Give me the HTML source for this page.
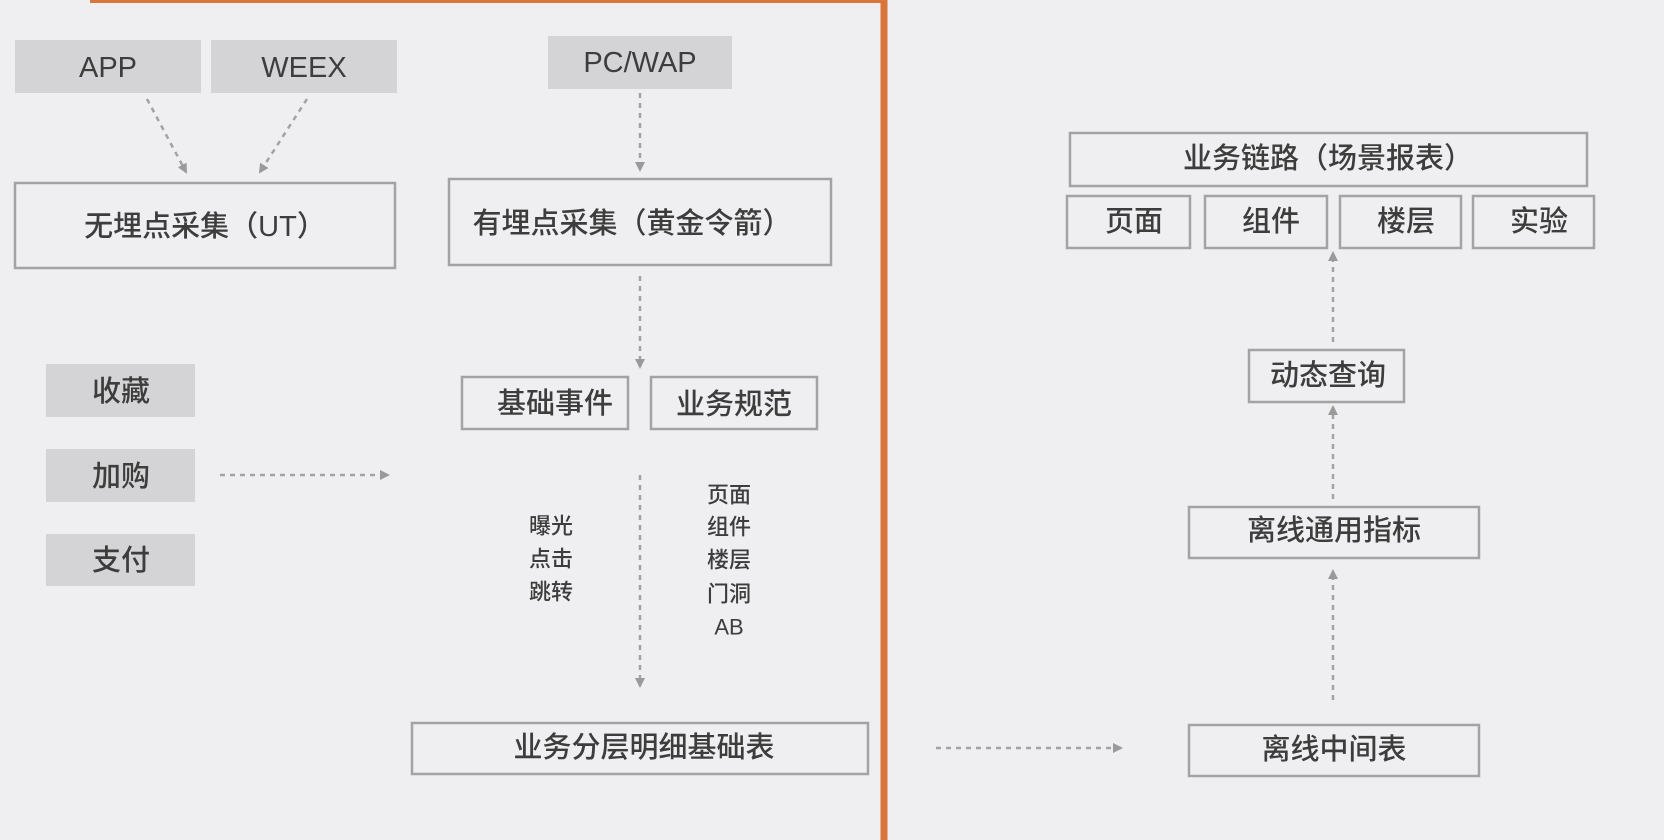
<!DOCTYPE html>
<html><head><meta charset="utf-8"><style>
html,body{margin:0;padding:0;background:#efeef0;}
svg{display:block}
text{font-family:"Liberation Sans","Noto Sans CJK SC",sans-serif;fill:#3d3d3d;font-weight:500;}
</style></head><body>
<svg width="1664" height="840" viewBox="0 0 1664 840" xmlns="http://www.w3.org/2000/svg">
<defs>
<marker id="a" markerWidth="10" markerHeight="10" refX="8" refY="5" orient="auto" markerUnits="userSpaceOnUse">
<path d="M0,0 L10,5 L0,10 z" fill="#9a9a9a"/></marker>
</defs>
<rect width="1664" height="840" fill="#efeef0"/>
<line x1="90" y1="1" x2="884" y2="1" stroke="#d9753a" stroke-width="4"/>
<line x1="884" y1="0" x2="884" y2="840" stroke="#d9753a" stroke-width="7"/>
<g fill="#d4d3d5">
<rect x="15" y="40" width="186" height="53"/>
<rect x="211" y="40" width="186" height="53"/>
<rect x="548" y="36" width="184" height="53"/>
<rect x="46" y="364" width="149" height="53"/>
<rect x="46" y="449" width="149" height="53"/>
<rect x="46" y="534" width="149" height="52"/>
</g>
<g fill="none" stroke="#a3a3a3" stroke-width="2.5">
<rect x="15" y="183" width="380" height="85"/>
<rect x="449" y="179" width="382" height="86"/>
<rect x="462" y="377" width="166" height="52"/>
<rect x="651" y="377" width="166" height="52"/>
<rect x="412" y="723" width="456" height="51"/>
<rect x="1189" y="725" width="290" height="51"/>
<rect x="1189" y="507" width="290" height="51"/>
<rect x="1249" y="350" width="155" height="52"/>
<rect x="1070" y="133" width="517" height="53"/>
<rect x="1067" y="196" width="123" height="52"/>
<rect x="1205" y="196" width="122" height="52"/>
<rect x="1340" y="196" width="121" height="52"/>
<rect x="1473" y="196" width="121" height="52"/>
</g>
<g stroke="#a3a3a3" stroke-width="2.5" stroke-dasharray="5,5" marker-end="url(#a)" fill="none">
<line x1="147" y1="99" x2="186" y2="172"/>
<line x1="307" y1="99" x2="260" y2="172"/>
<line x1="640" y1="93" x2="640" y2="170"/>
<line x1="640" y1="276" x2="640" y2="367"/>
<line x1="220" y1="475" x2="388" y2="475"/>
<line x1="640" y1="475" x2="640" y2="686"/>
<line x1="936" y1="748" x2="1121" y2="748"/>
<line x1="1333" y1="700" x2="1333" y2="571"/>
<line x1="1333" y1="499" x2="1333" y2="407"/>
<line x1="1333" y1="342" x2="1333" y2="253"/>
</g>
<g font-size="29" text-anchor="middle" dominant-baseline="central">
<text x="108" y="68">APP</text>
<text x="304" y="68">WEEX</text>
<text x="640" y="63">PC/WAP</text>
<text x="205" y="227">无埋点采集（UT）</text>
<text x="632" y="224">有埋点采集（黄金令箭）</text>
<text x="555" y="404">基础事件</text>
<text x="734" y="405">业务规范</text>
<text x="121" y="392">收藏</text>
<text x="121" y="477">加购</text>
<text x="121" y="561">支付</text>
<text x="644" y="748">业务分层明细基础表</text>
<text x="1334" y="750">离线中间表</text>
<text x="1334" y="531">离线通用指标</text>
<text x="1328" y="376">动态查询</text>
<text x="1328" y="159">业务链路（场景报表）</text>
<text x="1134" y="222">页面</text>
<text x="1271" y="222">组件</text>
<text x="1406" y="222">楼层</text>
<text x="1539" y="222">实验</text>
</g>
<g font-size="22" text-anchor="middle" dominant-baseline="central">
<text x="551" y="526">曝光</text>
<text x="551" y="559">点击</text>
<text x="551" y="592">跳转</text>
<text x="729" y="495">页面</text>
<text x="729" y="527">组件</text>
<text x="729" y="560">楼层</text>
<text x="729" y="594">门洞</text>
<text x="729" y="627">AB</text>
</g>
</svg>
</body></html>
